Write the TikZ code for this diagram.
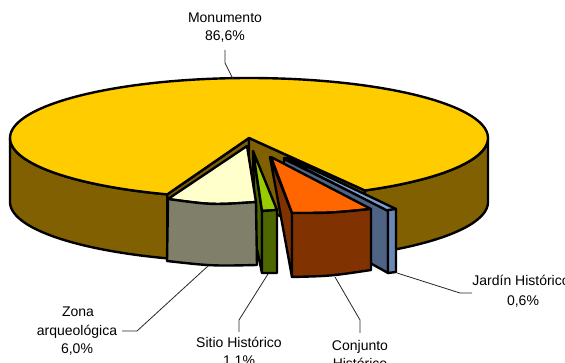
\documentclass[tikz,border=0pt]{standalone}
\usepackage{fontspec}
\setmainfont{Liberation Sans}
\definecolor{yel}{HTML}{FFCC00}
\definecolor{olv}{HTML}{806000}
\definecolor{crm}{HTML}{FFFFCC}
\definecolor{gry}{HTML}{80806A}
\definecolor{lim}{HTML}{99CC00}
\definecolor{dgr}{HTML}{4D6600}
\definecolor{org}{HTML}{FF6600}
\definecolor{brn}{HTML}{803300}
\definecolor{blt}{HTML}{7F9FCF}
\definecolor{bls}{HTML}{4F6384}
\definecolor{blf}{HTML}{6A88B4}
\begin{document}
\begin{tikzpicture}[x=1pt,y=-1pt,
  face/.style={draw=black, line width=2.4pt, line join=round},
  lead/.style={draw=black!85, line width=0.8pt},
  lbl/.style={font=\fontsize{14}{18}\selectfont, inner sep=0pt, anchor=base, text=black}]
\useasboundingbox (0,0) rectangle (565,363);
% ---------- main pie (Monumento) ----------
\path[face, fill=olv] (249,138) -- ({249+239*cos(110)},{138+60*sin(110)}) -- ++(0,64) -- (249,202) -- cycle;
\path[face, fill=olv] (249,138) -- ({249+239*cos(61)},{138+60*sin(61)}) -- ++(0,64) -- (249,202) -- cycle;
\path[face, fill=olv] plot[domain=110:180,samples=40] ({249+239*cos(\x)},{138+60*sin(\x)})
   -- plot[domain=180:110,samples=40] ({249+239*cos(\x)},{202+60*sin(\x)}) -- cycle;
\path[face, fill=olv] plot[domain=0:61,samples=40] ({249+239*cos(\x)},{138+60*sin(\x)})
   -- plot[domain=61:0,samples=40] ({249+239*cos(\x)},{202+60*sin(\x)}) -- cycle;
\path[face, fill=yel] (249,138) -- plot[domain=110:421,samples=160] ({249+239*cos(\x)},{138+60*sin(\x)}) -- cycle;
\coordinate (monTip) at (233,79);
% ---------- Jardin Historico ----------
\path[face, fill=bls] (284,159) -- (388,210) -- (388,273) -- (284,215) -- cycle;
\path[face, fill=blt] (284,158) -- (289,158) -- (396,209) -- (388,211) -- cycle;
\path[face, fill=blf] (388,210) -- (396,209) -- (396,272) -- (388,273) -- cycle;
\coordinate (jarTip) at (397,273);
% ---------- Conjunto Historico ----------
\path[face, fill=brn] (270,157) -- (292,213) -- (292,277) -- cycle;
\path[face, fill=org] (271,157) -- (292,213) .. controls (331,213) .. (371,209) -- cycle;
\path[face, fill=brn] (292,213) .. controls (331,213) .. (371,209) -- (371,270) .. controls (331,276) .. (292,277) -- cycle;
\coordinate (conTip) at (335,277);
% ---------- Sitio Historico ----------
\path[face, fill=dgr] (253,151) -- (262,211) -- (262,273) -- (255,240) -- cycle;
\path[face, fill=lim] (253,151) -- (262,211) -- (277,210) -- cycle;
\path[face, fill=dgr] (262,211) -- (277,210) -- (277,273) -- (262,273) -- cycle;
\coordinate (sitTip) at (268,274);
% ---------- Zona arqueologica ----------
\path[face, fill=crm] (247,146) -- (168,199) .. controls (212,205) .. (256,202) -- cycle;
\path[face, fill=gry] (168,199) .. controls (212,205) .. (256,202) -- (257,265) .. controls (212,266) .. (167,261) -- cycle;
\coordinate (zonTip) at (208,266);
% ---------- labels ----------
\node[lbl] (mon1) at (225,23) {Monumento};
\node[lbl] (mon2) at (225,41) {86,6\%};
\node[lbl] (zon1) at (78,317) {Zona};
\node[lbl] (zon2) at (77,335) {arqueológica};
\node[lbl] (zon3) at (77,353) {6,0\%};
\node[lbl] (sit1) at (239,348) {Sitio Histórico};
\node[lbl] (sit2) at (239,366) {1,1\%};
\node[lbl] (con1) at (360,350) {Conjunto};
\node[lbl] (con2) at (360,368) {Histórico};
\node[lbl] (jar1) at (521,286) {Jardín Histórico};
\node[lbl] (jar2) at (523,306) {0,6\%};
% ---------- leaders ----------
\coordinate (monA) at (225,50);
\coordinate (zonA) at (122,331);
\coordinate (sitA) at (239,332);
\coordinate (conA) at (360,333);
\coordinate (jarA) at (472,293);
\draw[lead] (monA) -- ++(0,13) -- (monTip);
\draw[lead] (zonA) -- ++(15,0) -- (zonTip);
\draw[lead] (sitA) -- ++(0,-12) -- (sitTip);
\draw[lead] (conA) -- ++(0,-13) -- (conTip);
\draw[lead] (jarA) -- ++(-12,0) -- (jarTip);
\end{tikzpicture}
\end{document}
